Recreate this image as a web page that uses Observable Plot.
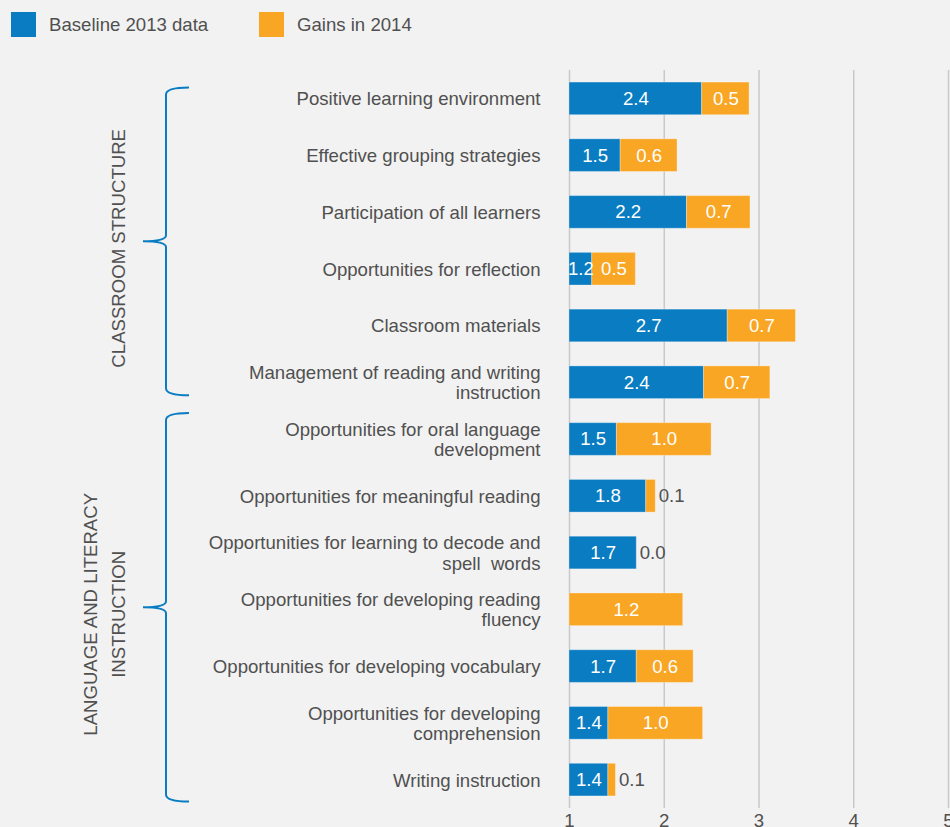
<!DOCTYPE html>
<html><head><meta charset="utf-8">
<script src="https://cdn.jsdelivr.net/npm/d3@7"></script>
<script src="https://cdn.jsdelivr.net/npm/@observablehq/plot@0.6"></script>
<style>
body{margin:0;background:#f2f2f2;font-family:"Helvetica Neue",Helvetica,Arial,"Liberation Sans",sans-serif;}
#legend{height:48px;position:relative;}
.sw{position:absolute;top:12px;width:25px;height:25px}
.lt{position:absolute;top:12px;line-height:25px;font-size:18.6px;color:#505050;white-space:nowrap}
</style></head><body>
<div id="legend"></div><div id="chart"></div>
<script>
// ---- data ----
const categories = [
  "Positive learning environment",
  "Effective grouping strategies",
  "Participation of all learners",
  "Opportunities for reflection",
  "Classroom materials",
  "Management of reading and writing instruction",
  "Opportunities for oral language development",
  "Opportunities for meaningful reading",
  "Opportunities for learning to decode and spell words",
  "Opportunities for developing reading fluency",
  "Opportunities for developing vocabulary",
  "Opportunities for developing comprehension",
  "Writing instruction"
];
const categoryLabels = [
  "Positive learning environment",
  "Effective grouping strategies",
  "Participation of all learners",
  "Opportunities for reflection",
  "Classroom materials",
  "Management of reading and writing\ninstruction",
  "Opportunities for oral language\ndevelopment",
  "Opportunities for meaningful reading",
  "Opportunities for learning to decode and\nspell  words",
  "Opportunities for developing reading\nfluency",
  "Opportunities for developing vocabulary",
  "Opportunities for developing\ncomprehension",
  "Writing instruction"
];
const baseline2013 = [2.4, 1.54, 2.24, 1.24, 2.67, 2.42, 1.5, 1.81, 1.71, null, 1.71, 1.41, 1.41];
const gains2014   = [0.5, 0.6, 0.67, 0.46, 0.72, 0.7, 1.0, 0.1, 0.0, 1.2, 0.6, 1.0, 0.08];
const seriesNames = ["Baseline 2013 data", "Gains in 2014"];
const groupNames = [["CLASSROOM STRUCTURE"], ["LANGUAGE AND LITERACY", "INSTRUCTION"]];
const groupFirst = [0, 6];
const groupLast = [5, 12];
const xTicks = [1, 2, 3, 4, 5];

// ---- style ----
const BLUE = "#0a7dc2", ORANGE = "#f9a624", TEXT = "#505050";
const FONT = '"Helvetica Neue",Helvetica,Arial,"Liberation Sans",sans-serif';
const FS = 18.6;

// legend
const legend = document.getElementById("legend");
[[11, 49], [259, 297]].forEach(([sx, tx], i) => {
  const s = document.createElement("div");
  s.className = "sw"; s.style.left = sx + "px"; s.style.background = i ? ORANGE : BLUE;
  const t = document.createElement("div");
  t.className = "lt"; t.style.left = tx + "px"; t.textContent = seriesNames[i];
  legend.append(s, t);
});

const rows = categories.map((c, i) => ({
  cat: c, label: categoryLabels[i], base: baseline2013[i], gain: gains2014[i],
  start: baseline2013[i] ?? 1
}));
const fmt = v => v.toFixed(1);

const plot = Plot.plot({
  width: 950, height: 790,
  marginLeft: 569, marginRight: 2, marginTop: 22, marginBottom: 30,
  style: {background: "#f2f2f2", fontFamily: FONT, color: TEXT, overflow: "visible"},
  x: {domain: [1, 5]},
  y: {domain: categories, axis: null, paddingInner: 0.425, paddingOuter: 0.2125, round: false},
  marks: [
    Plot.gridX(xTicks, {stroke: "#c9c9c9", strokeOpacity: 1, strokeWidth: 1.5}),
    Plot.barX(rows.filter(d => d.base != null), {y: "cat", x1: () => 1, x2: "base", fill: BLUE, stroke: "#fff", strokeOpacity: 0.3}),
    Plot.barX(rows.filter(d => d.gain > 0), {y: "cat", x1: "start", x2: d => d.start + d.gain, fill: ORANGE, stroke: "#fff", strokeOpacity: 0.3}),
    Plot.text(rows.filter(d => d.base != null), {y: "cat", x: d => (1 + d.base) / 2, text: d => fmt(d.base), fill: "white", fontSize: FS}),
    Plot.text(rows.filter(d => d.gain >= 0.3), {y: "cat", x: d => d.start + d.gain / 2, text: d => fmt(d.gain), fill: "white", fontSize: FS}),
    Plot.text(rows.filter(d => d.gain < 0.3), {y: "cat", x: d => d.start + d.gain, text: d => fmt(d.gain), fill: TEXT, fontSize: FS, textAnchor: "start", dx: 3}),
    Plot.text(rows, {y: "cat", x: () => 1, text: "label", textAnchor: "end", dx: -29, fontSize: FS, lineHeight: 1.08, fill: TEXT}),
    Plot.axisX({ticks: xTicks, tickFormat: "d", tickSize: 0, tickPadding: 5, fontSize: FS, fill: TEXT})
  ]
});
document.getElementById("chart").append(plot);

// group brackets and labels, placed with the plot's y scale
const y = plot.scale("y");
const bw = y.bandwidth;
const bracketPad = [[11, 13], [26, 22]];
const svg = d3.select(plot);
groupNames.forEach((lines, g) => {
  const top = y.apply(categories[groupFirst[g]]) + bw / 2 - bracketPad[g][0];
  const bot = y.apply(categories[groupLast[g]]) + bw / 2 + bracketPad[g][1];
  const mid = (top + bot) / 2;
  const xv = 166, xe = 189, xp = 143;
  svg.append("path")
    .attr("d", `M${xe},${top} Q${xv},${top} ${xv},${top + 7} L${xv},${mid - 6} Q${xv},${mid} ${xp},${mid} Q${xv},${mid} ${xv},${mid + 6} L${xv},${bot - 7} Q${xv},${bot} ${xe},${bot}`)
    .attr("fill", "none").attr("stroke", BLUE).attr("stroke-width", 2);
  const n = lines.length;
  const cy = mid + 7;
  lines.forEach((ln, i) => {
    const cx = 118 - (n - 1 - i) * 28;
    svg.append("text")
      .attr("transform", `translate(${cx},${cy}) rotate(-90)`)
      .attr("text-anchor", "middle").attr("dominant-baseline", "central")
      .attr("font-size", FS).attr("fill", TEXT).attr("font-family", FONT)
      .text(ln);
  });
});
</script>
</body></html>
